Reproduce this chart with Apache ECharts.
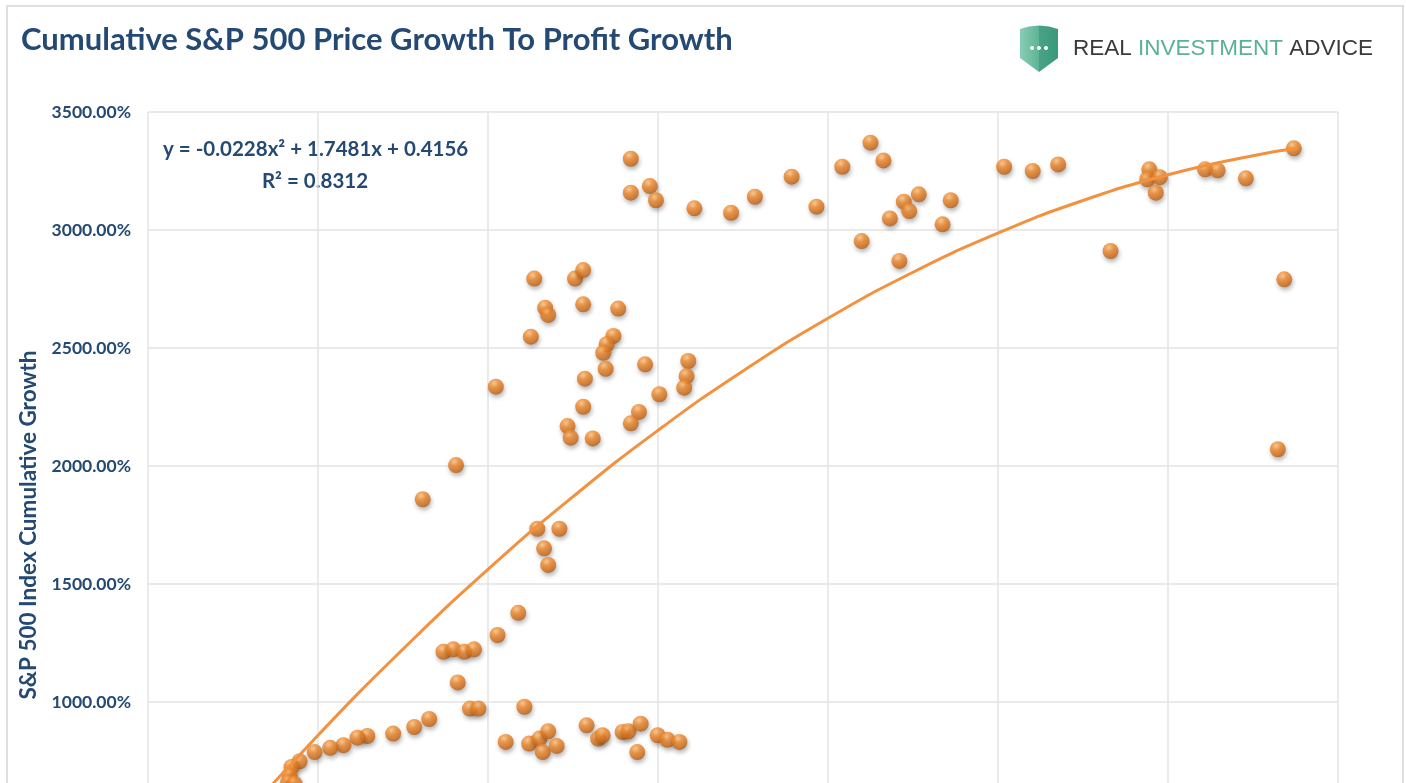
<!DOCTYPE html>
<html>
<head>
<meta charset="utf-8">
<title>Cumulative S&amp;P 500 Price Growth To Profit Growth</title>
<script src="https://cdn.jsdelivr.net/npm/echarts@6/dist/echarts.min.js"></script>
<style>
  html, body { margin: 0; padding: 0; background: #fff; overflow: hidden; }
  /* the chart runs past the bottom of the window, like the cropped original */
  #chart { width: 1406px; height: 960px; }
</style>
</head>
<body>
<div id="chart"></div>
<script>
// cumulative profit growth (x, %) and S&P 500 cumulative price growth (y, %)
var profitGrowth = [
  1420, 1420, 1476, 1494, 1607, 1715, 1785, 1893, 1966, 2042, 2125, 2163,
  2099, 2210, 2182, 2223, 2239, 2267, 2361, 2337, 2518, 2602, 2677, 2831,
  2945, 2939, 2976, 2964, 3109, 3146, 3229, 3370, 3342, 3323,
  1136, 1256, 1280, 1168, 1177, 1280, 1383, 1126, 1369, 1349, 1339, 1346,
  1462, 1589, 1584, 1577, 1285, 1504, 1023, 1280, 1444, 1420, 1234, 1243,
  1308, 906, 808, 1145, 1210, 1165, 1177, 1089, 1028, 869, 898, 930, 959,
  911, 947, 972, 1107,
  827, 783, 721, 1052, 1121, 1151, 1177, 1161, 1202, 1290, 1324, 1337,
  1396, 1413, 1449, 1439, 1499, 1528, 1563,
  645, 616, 575, 536, 490, 446, 422, 417, 412, 431
];
var priceGrowth = [
  3302, 3158, 3186, 3126, 3092, 3073, 3141, 3226, 3099, 3268, 3370, 3295,
  2953, 2869, 3049, 3120, 3080, 3151, 3126, 3024, 3268, 3250, 3278, 2911,
  3257, 3215, 3224, 3158, 3257, 3253, 3219, 3346, 2791, 2071,
  2794, 2794, 2830, 2671, 2640, 2685, 2667, 2548, 2551, 2516, 2480, 2412,
  2431, 2445, 2381, 2332, 2370, 2304, 2336, 2251, 2229, 2181, 2169, 2120,
  2117, 2004, 1859, 1734, 1734, 1651, 1581, 1378, 1284, 1213, 1223, 1213, 1223,
  1083, 972, 972, 980,
  928, 894, 866, 831, 824, 845, 876, 788, 814, 901, 845, 859,
  873, 876, 908, 788, 859, 840, 831,
  856, 849, 817, 806, 788, 749, 725, 689, 661, 654
];

// polynomial trendline
var trendX = [250, 500, 750, 1000, 1250, 1500, 1750, 2000, 2250, 2500, 2750, 3000, 3250, 3380];
var trendY = [464, 859, 1224, 1562, 1870, 2151, 2403, 2626, 2821, 2987, 3125, 3234, 3315, 3346];

var yTicks = [0, 500, 1000, 1500, 2000, 2500, 3000, 3500];

var navy = '#244a74';
var font = 'Lato, "Open Sans", sans-serif';

var points = profitGrowth.map(function (x, i) { return [x, priceGrowth[i]]; });
var trend = trendX.map(function (x, i) { return [x, trendY[i]]; });

var chart = echarts.init(document.getElementById('chart'));

chart.setOption({
  animation: false,
  backgroundColor: '#ffffff',
  title: {
    text: 'Cumulative S&P 500 Price Growth To Profit Growth',
    left: 16,
    top: 19,
    textStyle: { fontFamily: font, fontWeight: 'bold', fontSize: 31, color: navy }
  },
  grid: { left: 148, top: 112, width: 1190, height: 826 },
  xAxis: {
    type: 'value',
    min: 0, max: 3500, interval: 500,
    axisLine: { show: false },
    axisTick: { show: false },
    axisLabel: { show: false },
    splitLine: { lineStyle: { color: '#e3e3e3', width: 1.5 } }
  },
  yAxis: {
    type: 'value',
    min: yTicks[0], max: yTicks[yTicks.length - 1], interval: 500,
    name: 'S&P 500 Index Cumulative Growth',
    nameLocation: 'middle',
    nameGap: 91,
    nameTextStyle: { fontFamily: font, fontWeight: 'bold', fontSize: 22.5, color: navy },
    axisLine: { show: false },
    axisTick: { show: false },
    axisLabel: {
      margin: 17,
      fontFamily: font, fontWeight: 'bold', fontSize: 17.5, color: navy,
      formatter: function (v) { return v.toFixed(2) + '%'; }
    },
    splitLine: { lineStyle: { color: '#e3e3e3', width: 1.5 } }
  },
  series: [
    {
      type: 'scatter',
      data: points,
      symbolSize: 16,
      itemStyle: {
        color: {
          type: 'radial', x: 0.4, y: 0.3, r: 0.75,
          colorStops: [
            { offset: 0, color: '#fdc585' },
            { offset: 0.35, color: '#f08a2c' },
            { offset: 0.8, color: '#cf6b18' },
            { offset: 1, color: '#a35214' }
          ]
        },
        shadowBlur: 4,
        shadowOffsetX: 1,
        shadowOffsetY: 3,
        shadowColor: 'rgba(0,0,0,0.35)'
      },
      z: 2
    },
    {
      type: 'line',
      data: trend,
      smooth: true,
      showSymbol: false,
      lineStyle: { color: '#f3913f', width: 3 },
      z: 3
    }
  ],
  graphic: [
    {
      type: 'rect',
      shape: { x: 7, y: 6, width: 1396, height: 940 },
      style: { fill: null, stroke: '#dedede', lineWidth: 2 },
      silent: true
    },
    {
      type: 'text',
      x: 163, y: 149,
      style: {
        text: 'y = -0.0228x² + 1.7481x + 0.4156',
        font: 'bold 20.5px ' + font,
        fill: navy,
        textAlign: 'left',
        textVerticalAlign: 'middle'
      }
    },
    {
      type: 'text',
      x: 315, y: 181,
      style: {
        text: 'R² = 0.8312',
        font: 'bold 20.5px ' + font,
        fill: navy,
        textAlign: 'center',
        textVerticalAlign: 'middle'
      }
    },
    // logo shield
    {
      type: 'polygon',
      shape: {
        points: [[1020, 29], [1029, 26.5], [1039, 25.5], [1049, 26.5], [1058, 29],
                 [1058, 58], [1039, 72], [1020, 58]]
      },
      style: {
        fill: {
          type: 'linear', x: 0, y: 0, x2: 1, y2: 0,
          colorStops: [
            { offset: 0, color: '#86ceb3' },
            { offset: 0.5, color: '#5fb496' },
            { offset: 0.5, color: '#49a285' },
            { offset: 1, color: '#3d987b' }
          ]
        }
      }
    },
    { type: 'circle', shape: { cx: 1032, cy: 48, r: 2 }, style: { fill: '#fff' } },
    { type: 'circle', shape: { cx: 1039, cy: 48, r: 2 }, style: { fill: '#fff' } },
    { type: 'circle', shape: { cx: 1046, cy: 48, r: 2 }, style: { fill: '#fff' } },
    {
      type: 'text',
      x: 1073, y: 49,
      style: {
        text: '{a|REAL }{b|INVESTMENT }{a|ADVICE}',
        textVerticalAlign: 'middle',
        rich: {
          a: { font: '22.5px "Liberation Sans", Arial, sans-serif', fill: '#3a3a3a' },
          b: { font: '22.5px "Liberation Sans", Arial, sans-serif', fill: '#5bb197' }
        }
      }
    }
  ]
});
</script>
</body>
</html>
